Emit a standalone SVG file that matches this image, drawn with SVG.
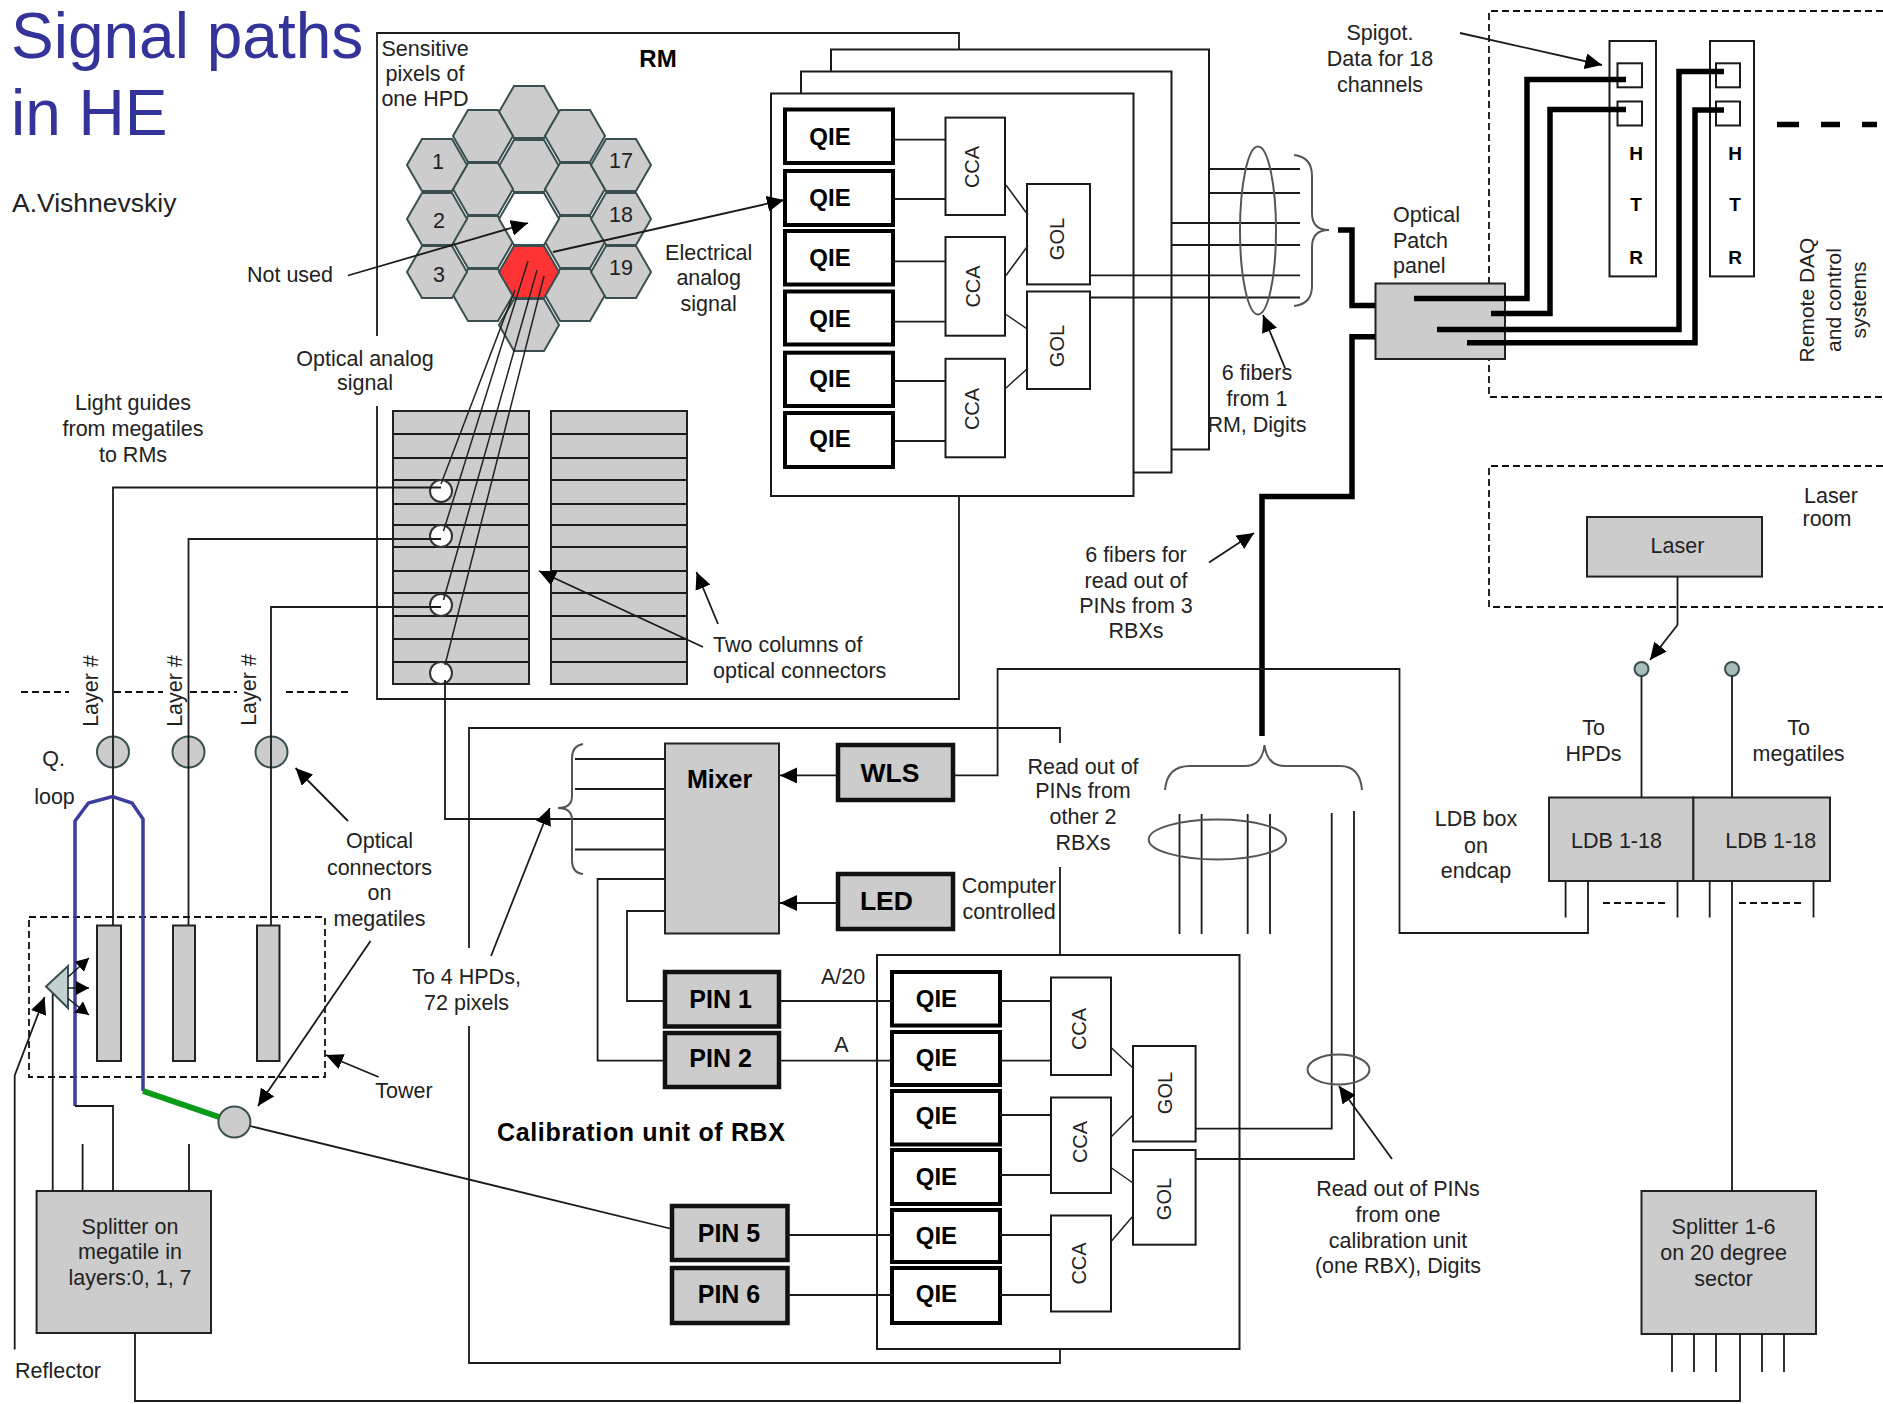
<svg xmlns="http://www.w3.org/2000/svg" width="1883" height="1404" viewBox="0 0 1883 1404">
<style>
text{font-family:"Liberation Sans",Arial,sans-serif;fill:#222;font-size:21.5px}
.c{text-anchor:middle}
.b{font-weight:bold;fill:#000}
.q{font-size:24px}
.p{font-size:25px}
.r{font-size:20px}
.h{font-size:19px}
.ti{font-size:64px;fill:#333399}
.l{fill:none;stroke:#1a1a1a;stroke-width:1.8}
.f{fill:none;stroke:#222;stroke-width:1.5}
.a{fill:none;stroke:#1a1a1a;stroke-width:1.8;marker-end:url(#ar)}
.as{fill:none;stroke:#1a1a1a;stroke-width:1.5;marker-end:url(#ar2)}
.tk{fill:none;stroke:#000;stroke-width:5.5}
.d{fill:none;stroke:#111;stroke-width:1.8;stroke-dasharray:7 4}
.br{fill:none;stroke:#555;stroke-width:2}
.el{fill:none;stroke:#555;stroke-width:2}
.w{fill:#fff;stroke:#1a1a1a;stroke-width:2}
.g{fill:#ccc;stroke:#222;stroke-width:2}
.wt{fill:#fff;stroke:#000;stroke-width:4}
.gt{fill:#ccc;stroke:#111;stroke-width:4.5}
.hx{fill:#ccc;stroke:#3a4f4f;stroke-width:2}
.ci{fill:#ccc;stroke:#3a4f4f;stroke-width:2}
</style>
<defs>
<marker id="ar" markerUnits="userSpaceOnUse" markerWidth="18" markerHeight="16" refX="17" refY="8" orient="auto"><path d="M0,0 L17,8 L0,16 Z" fill="#000"/></marker>
<marker id="ar2" markerUnits="userSpaceOnUse" markerWidth="14" markerHeight="14" refX="13" refY="7" orient="auto"><path d="M0,0 L13,7 L0,14 Z" fill="#000"/></marker>
<polygon id="hex" points="-30,0 -15,-26 15,-26 30,0 15,26 -15,26"/>
</defs>

<g id="title">
<text class="ti" x="11" y="58">Signal paths</text>
<text class="ti" x="11" y="135">in HE</text>
<text x="12" y="212" style="font-size:26.5px">A.Vishnevskiy</text>
</g>

<g id="frames">
<path id="rm-frame" class="l" d="M377,336 V33 H959 V49 M377,406 V699 H959 V496"/>
<path id="cal-frame" class="l" d="M469,948 V728 H1060 V743 M1060,867 V955 M1060,1349 V1363 H469 V1026"/>
<path id="daq-region" class="d" d="M1883,11 H1489 V397 H1883"/>
<path id="laser-region" class="d" d="M1883,466 H1489 V607 H1883"/>
<rect id="tower" class="d" x="29" y="917" width="296" height="160"/>
<path id="layer-line" class="d" d="M21,692 H69 M114,692 H163 M190,692 H237 M286,692 H348"/>
</g>

<g id="hpd">
<use href="#hex" class="hx" x="529" y="112"/>
<use href="#hex" class="hx" x="483" y="136"/>
<use href="#hex" class="hx" x="575" y="136"/>
<use href="#hex" class="hx" x="529" y="166"/>
<use href="#hex" class="hx" x="483" y="189"/>
<use href="#hex" class="hx" x="575" y="189"/>
<use href="#hex" class="hx" x="483" y="242"/>
<use href="#hex" class="hx" x="575" y="242"/>
<use href="#hex" class="hx" x="483" y="295"/>
<use href="#hex" class="hx" x="575" y="295"/>
<use href="#hex" class="hx" x="529" y="325"/>
<use href="#hex" class="hx" x="437" y="165"/>
<use href="#hex" class="hx" x="437" y="219"/>
<use href="#hex" class="hx" x="437" y="272"/>
<use href="#hex" class="hx" x="621" y="165"/>
<use href="#hex" class="hx" x="621" y="219"/>
<use href="#hex" class="hx" x="621" y="272"/>
<use href="#hex" x="529" y="219" fill="#fff" stroke="#3a4f4f" stroke-width="2"/>
<use href="#hex" x="529" y="272" fill="#f33" stroke="#3a4f4f" stroke-width="2"/>
<text class="c" x="438" y="169">1</text>
<text class="c" x="439" y="228">2</text>
<text class="c" x="439" y="282">3</text>
<text class="c" x="621" y="168">17</text>
<text class="c" x="621" y="222">18</text>
<text class="c" x="621" y="275">19</text>
</g>

<g id="connector-panels">
<g id="panel-left">
<rect class="g" x="393" y="411" width="136" height="273"/>
<path class="l" d="M393,434H529M393,458H529M393,480H529M393,504H529M393,525H529M393,547H529M393,571H529M393,593H529M393,616H529M393,639H529M393,662H529"/>
</g>
<g id="panel-right">
<rect class="g" x="551" y="411" width="136" height="273"/>
<path class="l" d="M551,434H687M551,458H687M551,480H687M551,504H687M551,525H687M551,547H687M551,571H687M551,593H687M551,616H687M551,639H687M551,662H687"/>
</g>
<circle id="conn-1" cx="441" cy="491" r="11" fill="#fff" stroke="#333" stroke-width="2"/>
<circle id="conn-2" cx="441" cy="536" r="11" fill="#fff" stroke="#333" stroke-width="2"/>
<circle id="conn-3" cx="441" cy="605" r="11" fill="#fff" stroke="#333" stroke-width="2"/>
<circle id="conn-4" cx="441" cy="673" r="11" fill="#fff" stroke="#333" stroke-width="2"/>
</g>

<g id="rm-stack">
<rect class="w" x="831" y="49.5" width="378" height="400"/>
<rect class="w" x="801" y="71.5" width="370.5" height="401"/>
<rect class="w" x="771" y="93.5" width="362.5" height="402.5"/>
</g>
<g id="rm-qie-1"><rect class="wt" x="785" y="109.5" width="108" height="53.5"/><text class="c b q" x="830" y="144.7">QIE</text></g>
<g id="rm-qie-2"><rect class="wt" x="785" y="171" width="108" height="54"/><text class="c b q" x="830" y="206">QIE</text></g>
<g id="rm-qie-3"><rect class="wt" x="785" y="231" width="108" height="53.5"/><text class="c b q" x="830" y="266">QIE</text></g>
<g id="rm-qie-4"><rect class="wt" x="785" y="291.5" width="108" height="53"/><text class="c b q" x="830" y="326.5">QIE</text></g>
<g id="rm-qie-5"><rect class="wt" x="785" y="352.7" width="108" height="53.3"/><text class="c b q" x="830" y="387">QIE</text></g>
<g id="rm-qie-6"><rect class="wt" x="785" y="413" width="108" height="54"/><text class="c b q" x="830" y="447">QIE</text></g>
<g id="rm-cca-1"><rect class="w" x="945.5" y="117.6" width="59.5" height="97.4"/><text class="c r" transform="translate(979,167) rotate(-90)">CCA</text></g>
<g id="rm-cca-2"><rect class="w" x="945.5" y="237" width="59.5" height="98.7"/><text class="c r" transform="translate(980,286.5) rotate(-90)">CCA</text></g>
<g id="rm-cca-3"><rect class="w" x="945.5" y="358.8" width="59.5" height="98.5"/><text class="c r" transform="translate(979,409) rotate(-90)">CCA</text></g>
<g id="rm-gol-1"><rect class="w" x="1027" y="184" width="63" height="100.4"/><text class="c r" transform="translate(1064,239) rotate(-90)">GOL</text></g>
<g id="rm-gol-2"><rect class="w" x="1027" y="291.5" width="63" height="97.5"/><text class="c r" transform="translate(1064,346) rotate(-90)">GOL</text></g>

<g id="patch-panel"><rect class="g" x="1375.5" y="283.5" width="129.5" height="75.5"/></g>
<g id="htr-1">
<rect class="w" x="1609.5" y="41" width="46.5" height="235.4"/>
<rect class="w" x="1617.5" y="63.3" width="24.5" height="24"/>
<rect class="w" x="1617.5" y="101.5" width="24.5" height="24"/>
<text class="c b h" x="1636" y="160">H</text><text class="c b h" x="1636" y="211">T</text><text class="c b h" x="1636" y="264">R</text>
</g>
<g id="htr-2">
<rect class="w" x="1710" y="41" width="44" height="235.4"/>
<rect class="w" x="1716" y="63.3" width="24" height="24"/>
<rect class="w" x="1716" y="101.5" width="24" height="24"/>
<text class="c b h" x="1735" y="160">H</text><text class="c b h" x="1735" y="211">T</text><text class="c b h" x="1735" y="264">R</text>
</g>

<g id="megatiles">
<rect class="g" x="97" y="925.5" width="24" height="135.5"/>
<rect class="g" x="173" y="925.5" width="22" height="135.5"/>
<rect class="g" x="257" y="925.5" width="22.5" height="135.5"/>
<ellipse class="ci" cx="113" cy="752" rx="16" ry="15.5"/>
<ellipse class="ci" cx="188.5" cy="752" rx="16" ry="15.5"/>
<ellipse class="ci" cx="271.5" cy="752" rx="16" ry="15.5"/>
<ellipse id="megatile-output" class="ci" cx="234.4" cy="1122" rx="16" ry="15.5"/>
<polygon id="reflector" points="46,986.5 68,966 68,1008" fill="#c2d0d0" stroke="#3a4f4f" stroke-width="2"/>
</g>
<g id="splitter-megatile">
<rect class="g" x="36.6" y="1191" width="174.4" height="142"/>
<text class="c" x="130" y="1234">Splitter on</text>
<text class="c" x="130" y="1259">megatile in</text>
<text class="c" x="130" y="1285">layers:0, 1, 7</text>
</g>

<g id="inner-cal"><rect class="w" x="877" y="955" width="362.5" height="394"/></g>
<g id="mixer"><rect class="g" x="665" y="743.5" width="114" height="190"/><text class="c b" style="font-size:25px" x="719.6" y="788">Mixer</text></g>
<g id="wls"><rect class="gt" x="838" y="745" width="115" height="55"/><text class="c b" style="font-size:26.5px" x="890" y="782">WLS</text></g>
<g id="led"><rect class="gt" x="838" y="874" width="115" height="55"/><text class="c b" style="font-size:26.5px" x="886.4" y="910">LED</text></g>
<g id="pin-1"><rect class="gt" x="665" y="972" width="114" height="54.5"/><text class="c b p" x="720.6" y="1007.5">PIN 1</text></g>
<g id="pin-2"><rect class="gt" x="665" y="1033" width="114" height="54"/><text class="c b p" x="720.6" y="1067">PIN 2</text></g>
<g id="pin-5"><rect class="gt" x="672" y="1206" width="115.5" height="54"/><text class="c b p" x="729" y="1241.5">PIN 5</text></g>
<g id="pin-6"><rect class="gt" x="672" y="1268" width="115.5" height="55"/><text class="c b p" x="729" y="1303">PIN 6</text></g>
<g id="cal-qie-1"><rect class="wt" x="892" y="972" width="108" height="53.5"/><text class="c b q" x="936.4" y="1007">QIE</text></g>
<g id="cal-qie-2"><rect class="wt" x="892" y="1032" width="108" height="53"/><text class="c b q" x="936.4" y="1066">QIE</text></g>
<g id="cal-qie-3"><rect class="wt" x="892" y="1091" width="108" height="53.5"/><text class="c b q" x="936.4" y="1124">QIE</text></g>
<g id="cal-qie-4"><rect class="wt" x="892" y="1150" width="108" height="54"/><text class="c b q" x="936.4" y="1185">QIE</text></g>
<g id="cal-qie-5"><rect class="wt" x="892" y="1210" width="108" height="52"/><text class="c b q" x="936.4" y="1244">QIE</text></g>
<g id="cal-qie-6"><rect class="wt" x="892" y="1268" width="108" height="55"/><text class="c b q" x="936.4" y="1302">QIE</text></g>
<g id="cal-cca-1"><rect class="w" x="1051" y="977.5" width="60" height="97.5"/><text class="c r" transform="translate(1086,1029) rotate(-90)">CCA</text></g>
<g id="cal-cca-2"><rect class="w" x="1051" y="1097.5" width="60" height="95.5"/><text class="c r" transform="translate(1087,1142) rotate(-90)">CCA</text></g>
<g id="cal-cca-3"><rect class="w" x="1051" y="1215.5" width="60" height="96"/><text class="c r" transform="translate(1086,1263.5) rotate(-90)">CCA</text></g>
<g id="cal-gol-1"><rect class="w" x="1133" y="1046" width="62.6" height="95.5"/><text class="c r" transform="translate(1171.5,1093) rotate(-90)">GOL</text></g>
<g id="cal-gol-2"><rect class="w" x="1133" y="1150" width="62.6" height="94.7"/><text class="c r" transform="translate(1170.5,1199) rotate(-90)">GOL</text></g>

<g id="laser"><rect class="g" x="1587" y="517" width="175" height="59.6"/><text class="c" x="1677.5" y="553">Laser</text></g>
<g id="ldb-1"><rect class="g" x="1549" y="797.5" width="144.4" height="83.5"/><text class="c" x="1616.5" y="848">LDB 1-18</text></g>
<g id="ldb-2"><rect class="g" x="1693.4" y="797.5" width="136.6" height="83.5"/><text class="c" x="1770.7" y="848">LDB 1-18</text></g>
<g id="splitter-sector">
<rect class="g" x="1641.5" y="1191" width="174.5" height="143"/>
<text class="c" x="1723.6" y="1234">Splitter 1-6</text>
<text class="c" x="1723.6" y="1260">on 20 degree</text>
<text class="c" x="1723.6" y="1286">sector</text>
</g>
<circle id="laser-out-1" class="ci" cx="1641.5" cy="669" r="7" style="fill:#a8bcbc"/>
<circle id="laser-out-2" class="ci" cx="1732" cy="669" r="7" style="fill:#a8bcbc"/>

<g id="connectors">
<path class="f" d="M441,484L515,290M443.5,531L528,261M443.5,600L537,270M445,665L544,276"/>
<path class="l" d="M441,487.5H113V925M441,539H188.5V925M441,607H271V925M445,680V819H665"/>
<path class="a" d="M553,252L784,200"/>
<path class="a" d="M348,275.5L528,223"/>
<path class="a" d="M703,647L539,571"/>
<path class="a" d="M718,624L696.5,572"/>
<path class="l" d="M893,139.7H945.5M893,199H945.5M893,261.3H945.5M893,321.6H945.5M893,381H945.5M893,441H945.5"/>
<path class="f" d="M1006,185L1028,215M1006,275.5L1028,245.5M1006,314.5L1028,329.5M1006,388L1028,368"/>
<path class="l" d="M1209,169H1300M1209,193H1300M1171.5,223H1300M1171.5,245H1300M1090,275.4H1300M1090,297.5H1300"/>
<ellipse class="el" cx="1258" cy="230.5" rx="18" ry="84"/>
<path class="br" d="M1294,155Q1312,157 1312,176V213Q1312,230 1329,230Q1312,230 1312,247V286Q1312,304 1294,306"/>
<path class="a" d="M1285,368L1263,315"/>
<path class="tk" d="M1338,230H1352V305.5H1375"/>
<path class="tk" d="M1375,336.7H1352V496.5H1262V736"/>
<path class="tk" d="M1414,298.5H1527V79.4H1626"/>
<path class="tk" d="M1491,313.6H1550V109.5H1626"/>
<path class="tk" d="M1437,329.6H1679V71.4H1724"/>
<path class="tk" d="M1467,342.7H1695V110H1724"/>
<path class="tk" d="M1777,124.5H1799M1821,124.5H1840M1862,124.5H1877"/>
<path class="a" d="M1460,33L1602,65"/>
<path class="a" d="M1209,562.6L1254,533"/>
<path fill="none" stroke="#3d3d9e" stroke-width="3.5" d="M75,1106V821L88.4,803L112.5,796.6L132,803L143,819V1091"/>
<path fill="none" stroke="#0a9a1a" stroke-width="6" d="M143,1091L219,1117"/>
<path class="l" d="M250,1126L672,1229"/>
<path class="l" d="M75,1106H113V1191M52.7,994V1191M82.6,1144V1191M189,1144V1191"/>
<path class="a" d="M14.7,1349.5V1075.5L44.6,997"/>
<path class="as" d="M68,977L89,958"/>
<path class="as" d="M68,988H89"/>
<path class="as" d="M68,998.5L89,1015"/>
<path class="a" d="M348,821L295.5,768"/>
<path class="a" d="M370.5,941L258,1106"/>
<path class="a" d="M378.6,1077L326,1055"/>
<path class="l" d="M135,1333V1401H1740V1334"/>
<path class="l" d="M575,759H665M575,789H665M575,849.5H665"/>
<path class="br" d="M583,744Q572,746 572,758V796Q572,808 558,808Q572,808 572,820V860Q572,873 583,874"/>
<path class="l" d="M665,879H597.6V1060.6H665M665,911H627V1001H665"/>
<path class="a" d="M491,956L549.7,808"/>
<path class="a" d="M838,775.4H780"/>
<path class="a" d="M838,903H780"/>
<path class="l" d="M953,775.4H997.6V669H1399.5V933H1588V881"/>
<path class="l" d="M779,1001H892M779,1060.6H892M787.5,1235H892M787.5,1295H892"/>
<path class="l" d="M1000,1001H1051M1000,1060.6H1051M1000,1115H1051M1000,1175H1051M1000,1235H1051M1000,1295H1051"/>
<path class="f" d="M1111.5,1048L1133,1068M1111.5,1136.5L1133,1115M1111.5,1168L1133,1183M1111.5,1241L1133,1216"/>
<path class="l" d="M1195.6,1128.6H1331.7V813M1195.6,1159H1354V811"/>
<ellipse class="el" cx="1338.5" cy="1069.6" rx="31" ry="15"/>
<path class="a" d="M1392,1159L1339,1086"/>
<path class="l" d="M1179.5,814V934M1201.6,814V934M1247.7,814V934M1270,814V934"/>
<ellipse class="el" cx="1217.4" cy="839.5" rx="68.7" ry="20"/>
<path class="br" d="M1165,790Q1167,766 1190,766H1245Q1262,766 1264.5,745Q1267,766 1285,766H1340Q1360,766 1362,790"/>
<path class="l" d="M1677.5,576.6V625"/>
<path class="a" d="M1677.5,625L1650,660"/>
<path class="l" d="M1641.5,676V797.5M1732,676V797.5M1732,881V1191"/>
<path class="l" d="M1565.6,881V917.4M1677.5,881V917.4M1709.7,881V917.4M1813.5,881V917.4"/>
<path class="d" d="M1603,903H1669M1739,903H1805"/>
<path class="l" d="M1672,1334V1372M1694,1334V1372M1716,1334V1372M1762,1334V1372M1784,1334V1372"/>
</g>

<g id="labels">
<text class="c" x="425" y="56">Sensitive</text><text class="c" x="425" y="81">pixels of</text><text class="c" x="425" y="106">one HPD</text>
<text class="c b" style="font-size:24px" x="658" y="67">RM</text>
<text class="c" x="290" y="282">Not used</text>
<text class="c" x="708.7" y="260">Electrical</text><text class="c" x="708.7" y="285">analog</text><text class="c" x="708.7" y="311">signal</text>
<text class="c" x="365" y="366">Optical analog</text><text class="c" x="365" y="390">signal</text>
<text class="c" x="133" y="410">Light guides</text><text class="c" x="133" y="436">from megatiles</text><text class="c" x="133" y="462">to RMs</text>
<text x="713" y="652">Two columns of</text><text x="713" y="678">optical connectors</text>
<text class="c" transform="translate(98,691) rotate(-90)">Layer #</text>
<text class="c" transform="translate(182,691) rotate(-90)">Layer #</text>
<text class="c" transform="translate(256,690) rotate(-90)">Layer #</text>
<text class="c" x="53.6" y="766">Q.</text>
<text class="c" x="54.5" y="804">loop</text>
<text class="c" x="379.5" y="848">Optical</text><text class="c" x="379.5" y="875">connectors</text><text class="c" x="379.5" y="900">on</text><text class="c" x="379.5" y="926">megatiles</text>
<text class="c" x="404" y="1098">Tower</text>
<text class="c" x="58" y="1378">Reflector</text>
<text class="c" x="466.5" y="984">To 4 HPDs,</text><text class="c" x="466.5" y="1010">72 pixels</text>
<text class="b" x="497" y="1141" style="font-size:25px" textLength="288" lengthAdjust="spacing">Calibration unit of RBX</text>
<text class="c" x="1083" y="774">Read out of</text><text class="c" x="1083" y="798">PINs from</text><text class="c" x="1083" y="824">other 2</text><text class="c" x="1083" y="850">RBXs</text>
<text class="c" x="1009" y="893">Computer</text><text class="c" x="1009" y="919">controlled</text>
<text class="c" x="843" y="984">A/20</text>
<text class="c" x="841.5" y="1052">A</text>
<text class="c" x="1380" y="40">Spigot.</text><text class="c" x="1380" y="66">Data for 18</text><text class="c" x="1380" y="92">channels</text>
<text x="1393" y="222">Optical</text><text x="1393" y="248">Patch</text><text x="1393" y="273">panel</text>
<text class="c" x="1257" y="380">6 fibers</text><text class="c" x="1257" y="406">from 1</text><text class="c" x="1257" y="432">RM, Digits</text>
<text class="c" x="1136" y="562">6 fibers for</text><text class="c" x="1136" y="588">read out of</text><text class="c" x="1136" y="613">PINs from 3</text><text class="c" x="1136" y="638">RBXs</text>
<text class="c" x="1398" y="1196">Read out of PINs</text><text class="c" x="1398" y="1222">from one</text><text class="c" x="1398" y="1248">calibration unit</text><text class="c" x="1398" y="1273">(one RBX), Digits</text>
<text class="c" style="font-size:21px" transform="translate(1814,300) rotate(-90)">Remote DAQ</text>
<text class="c" style="font-size:21px" transform="translate(1841,300) rotate(-90)">and control</text>
<text class="c" style="font-size:21px" transform="translate(1866,300) rotate(-90)">systems</text>
<text class="c" x="1831" y="503">Laser</text><text class="c" x="1827" y="526">room</text>
<text class="c" x="1593.5" y="735">To</text><text class="c" x="1593.5" y="761">HPDs</text>
<text class="c" x="1798.6" y="735">To</text><text class="c" x="1798.6" y="761">megatiles</text>
<text class="c" x="1476" y="826">LDB box</text><text class="c" x="1476" y="853">on</text><text class="c" x="1476" y="878">endcap</text>
</g>
</svg>
